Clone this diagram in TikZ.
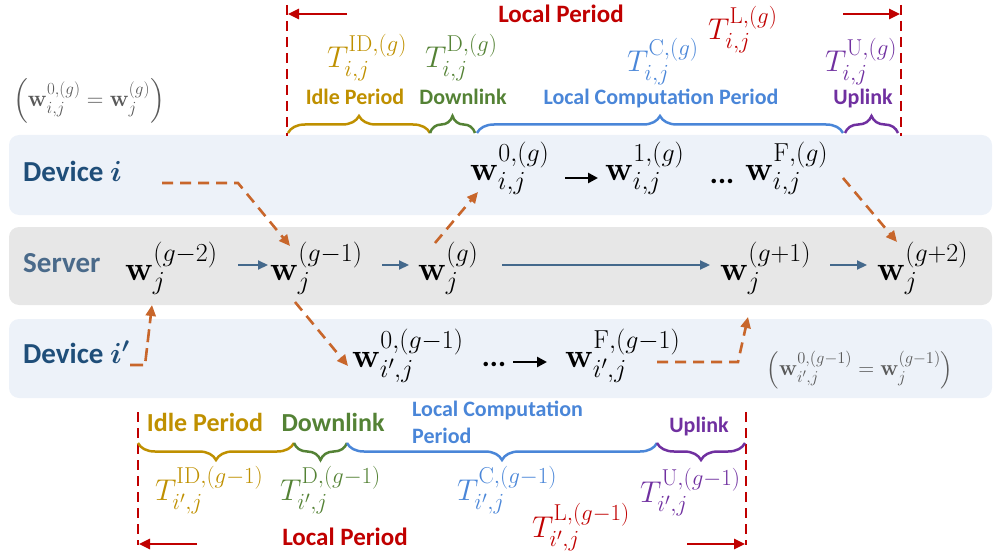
\RequirePackage{fix-cm}
\documentclass[tikz,border=0pt]{standalone}
\usepackage[no-math]{fontspec}
\setmainfont{Carlito}
\usepackage{amsmath,bm}
\usetikzlibrary{arrows.meta,decorations.pathreplacing}
\DeclareMathSizes{34}{34}{26}{19}
\DeclareMathSizes{30}{30}{23}{17}
\DeclareMathSizes{29}{29}{21}{16}
\DeclareMathSizes{23}{23}{17}{13}
\DeclareMathSizes{22}{22}{16.5}{12}
\definecolor{bandblue}{HTML}{EDF2F9}
\definecolor{bandgray}{HTML}{E7E7E7}
\definecolor{devblue}{HTML}{1F4E79}
\definecolor{servblue}{HTML}{4A6A8A}
\definecolor{arrblue}{HTML}{44698C}
\definecolor{orng}{HTML}{C8662B}
\definecolor{lred}{HTML}{C00000}
\definecolor{gold}{HTML}{BF9000}
\definecolor{grn}{HTML}{548235}
\definecolor{cblue}{HTML}{4A86D8}
\definecolor{purp}{HTML}{7030A0}
\definecolor{anngray}{HTML}{595959}
\tikzset{
  wnode/.style={inner sep=0pt, anchor=base west, font=\fontsize{34}{36}\selectfont},
  tnode/.style={inner sep=0pt, anchor=base west, font=\fontsize{30}{32}\selectfont},
  rowlab/.style={inner sep=0pt, anchor=base west, font=\fontsize{29}{32}\selectfont\bfseries},
  plab/.style={inner sep=0pt, anchor=base, font=\fontsize{22}{26}\selectfont\bfseries},
  plabbig/.style={inner sep=0pt, anchor=base, font=\fontsize{26}{30}\selectfont\bfseries},
  lplab/.style={inner sep=0pt, anchor=base, font=\fontsize{25}{28}\selectfont\bfseries, text=lred},
  ann/.style={inner sep=0pt, text=anngray},
  dotsnode/.style={inner sep=0pt, anchor=base, font=\fontsize{30}{30}\selectfont\bfseries},
  odash/.style={draw=orng, line width=2.6pt, dash pattern=on 11pt off 7pt, -{Triangle[length=11pt,width=10pt]}},
  sarrow/.style={draw=arrblue, line width=2.2pt, -{Triangle[length=10pt,width=9pt]}},
  karrow/.style={draw=black, line width=2.6pt, -{Triangle[length=10pt,width=10pt]}},
  rdash/.style={draw=lred, line width=2.5pt, dash pattern=on 10pt off 6pt},
  rarrow/.style={draw=lred, line width=2.5pt, -{Triangle[length=11pt,width=10pt]}},
  bracedeco/.style={decorate, decoration={brace, amplitude=17pt}, line width=2.5pt},
}
\begin{document}
\begin{tikzpicture}[x=1pt,y=-1pt]
\useasboundingbox (0,0) rectangle (993,559);
% bands
\fill[bandblue, rounded corners=10pt] (9,135) rectangle (992,215);
\fill[bandgray, rounded corners=10pt] (9,227) rectangle (992,305);
\fill[bandblue, rounded corners=10pt] (9,319) rectangle (992,398);

% row labels
\node[rowlab, text=devblue] (devi) at (23,181) {Device $\bm{i}$};
\node[rowlab, text=servblue] (serv) at (23,272) {Server};
\node[rowlab, text=devblue] (devip) at (23,363) {Device $\bm{i'}$};

% server nodes
\node[wnode] (s0) at (125,280) {$\mathbf{w}_j^{(g-2)}$};
\node[wnode] (s1) at (270,280) {$\mathbf{w}_j^{(g-1)}$};
\node[wnode] (s2) at (418,280) {$\mathbf{w}_j^{(g)}$};
\node[wnode] (s3) at (720,280) {$\mathbf{w}_j^{(g+1)}$};
\node[wnode] (s4) at (877,280) {$\mathbf{w}_j^{(g+2)}$};

% device i nodes
\node[wnode] (d0) at (470,180) {$\mathbf{w}_{i,j}^{0,(g)}$};
\node[wnode] (d1) at (605,180) {$\mathbf{w}_{i,j}^{1,(g)}$};
\node[dotsnode] (ddots) at (722,183) {...};
\node[wnode] (dF) at (745,180) {$\mathbf{w}_{i,j}^{\mathrm{F},(g)}$};

% device i' nodes
\node[wnode] (e0) at (352,367) {$\mathbf{w}_{i',j}^{0,(g-1)}$};
\node[dotsnode] (edots) at (494,366) {...};
\node[wnode] (eF) at (565,367) {$\mathbf{w}_{i',j}^{\mathrm{F},(g-1)}$};

% annotations
\node[ann, font=\fontsize{23}{26}\selectfont] (annA) at (89,101) {$\left(\mathbf{w}_{i,j}^{0,(g)} = \mathbf{w}_j^{(g)}\right)$};
\node[ann, font=\fontsize{22}{25}\selectfont] (annB) at (860,370) {$\left(\mathbf{w}_{i',j}^{0,(g-1)} = \mathbf{w}_j^{(g-1)}\right)$};

% server arrows
\coordinate (a0s) at (238,265); \coordinate (a0e) at (268,265);
\coordinate (a1s) at (382,265); \coordinate (a1e) at (409,265);
\coordinate (a2s) at (502,265); \coordinate (a2e) at (710,265);
\coordinate (a3s) at (830,265); \coordinate (a3e) at (867,265);
\draw[sarrow] (a0s) -- (a0e);
\draw[sarrow] (a1s) -- (a1e);
\draw[sarrow] (a2s) -- (a2e);
\draw[sarrow] (a3s) -- (a3e);

% black arrows
\coordinate (b0s) at (565,178); \coordinate (b0e) at (598,178);
\coordinate (b1s) at (513,362); \coordinate (b1e) at (547,362);
\draw[karrow] (b0s) -- (b0e);
\draw[karrow] (b1s) -- (b1e);

% orange dashed arrows
\coordinate (o1a) at (162,183); \coordinate (o1b) at (238,183); \coordinate (o1c) at (290,246);
\draw[odash] (o1a) -- (o1b) -- (o1c);
\coordinate (o2a) at (435,243); \coordinate (o2b) at (478,192);
\draw[odash] (o2a) -- (o2b);
\coordinate (o3a) at (843,178); \coordinate (o3b) at (897,242);
\draw[odash] (o3a) -- (o3b);
\coordinate (o4a) at (295,302); \coordinate (o4b) at (348,366);
\draw[odash] (o4a) -- (o4b);
\coordinate (o5a) at (130,365); \coordinate (o5b) at (145,365); \coordinate (o5c) at (152,305);
\draw[odash, dash pattern=on 13pt off 6pt] (o5a) -- (o5b) -- (o5c);
\coordinate (o6a) at (657,362); \coordinate (o6b) at (738,362); \coordinate (o6c) at (748,317);
\draw[odash] (o6a) -- (o6b) -- (o6c);

% ===== top timeline =====
\coordinate (tl1) at (287,5); \coordinate (tl2) at (287,136);
\coordinate (tr1) at (901,5); \coordinate (tr2) at (901,136);
\draw[rdash] (tl1) -- (tl2);
\draw[rdash] (tr1) -- (tr2);
\coordinate (tla) at (347,14); \coordinate (tlb) at (288,14);
\coordinate (tra) at (843,14); \coordinate (trb) at (900,14);
\draw[rarrow] (tla) -- (tlb);
\draw[rarrow] (tra) -- (trb);
\node[lplab] (tlp) at (561,23) {Local Period};
\node[tnode, text=lred] (tTL) at (708,40) {$T_{i,j}^{\mathrm{L},(g)}$};
\node[tnode, text=gold] (tTID) at (327,68) {$T_{i,j}^{\mathrm{ID},(g)}$};
\node[tnode, text=grn] (tTD) at (425,68) {$T_{i,j}^{\mathrm{D},(g)}$};
\node[tnode, text=cblue] (tTC) at (627,72) {$T_{i,j}^{\mathrm{C},(g)}$};
\node[tnode, text=purp] (tTU) at (825,72) {$T_{i,j}^{\mathrm{U},(g)}$};
\node[plab, text=gold] (tlid) at (355,105) {Idle Period};
\node[plab, text=grn] (tldl) at (463,105) {Downlink};
\node[plab, text=cblue] (tllc) at (661,105) {Local Computation Period};
\node[plab, text=purp] (tlul) at (863,105) {Uplink};
\coordinate (tb0) at (288,133); \coordinate (tb1) at (430,133);
\coordinate (tb2) at (475,133); \coordinate (tb3) at (477,133);
\coordinate (tb4) at (843,133); \coordinate (tb5) at (845,133);
\coordinate (tb6) at (898,133);
\draw[bracedeco, gold] (tb0) -- (tb1);
\draw[bracedeco, grn] (tb1) -- (tb2);
\draw[bracedeco, cblue] (tb3) -- (tb4);
\draw[bracedeco, purp] (tb5) -- (tb6);

% ===== bottom timeline =====
\coordinate (bl1) at (138,412); \coordinate (bl2) at (138,545);
\coordinate (br1) at (746,412); \coordinate (br2) at (746,545);
\draw[rdash] (bl1) -- (bl2);
\draw[rdash] (br1) -- (br2);
\coordinate (bla) at (197,544); \coordinate (blb) at (139,544);
\coordinate (bra) at (687,544); \coordinate (brb) at (745,544);
\draw[rarrow] (bla) -- (blb);
\draw[rarrow] (bra) -- (brb);
\node[plabbig, text=gold] (blid) at (205,431) {Idle Period};
\node[plabbig, text=grn] (bldl) at (333,431) {Downlink};
\node[inner sep=0pt, anchor=base west, font=\fontsize{22}{26}\selectfont\bfseries, text=cblue] (bllc1) at (412,416) {Local Computation};
\node[inner sep=0pt, anchor=base west, font=\fontsize{22}{26}\selectfont\bfseries, text=cblue] (bllc2) at (412,443) {Period};
\node[plab, text=purp] (blul) at (699,432) {Uplink};
\coordinate (bb0) at (138,443); \coordinate (bb1) at (294,443);
\coordinate (bb2) at (347,443); \coordinate (bb3) at (657,443);
\coordinate (bb4) at (745,443);
\draw[bracedeco, gold] (bb1) -- (bb0);
\draw[bracedeco, grn] (bb2) -- (bb1);
\draw[bracedeco, cblue] (bb3) -- (bb2);
\draw[bracedeco, purp] (bb4) -- (bb3);
\node[tnode, text=gold] (bTID) at (155,500) {$T_{i',j}^{\mathrm{ID},(g-1)}$};
\node[tnode, text=grn] (bTD) at (280,500) {$T_{i',j}^{\mathrm{D},(g-1)}$};
\node[tnode, text=cblue] (bTC) at (457,500) {$T_{i',j}^{\mathrm{C},(g-1)}$};
\node[tnode, text=purp] (bTU) at (640,502) {$T_{i',j}^{\mathrm{U},(g-1)}$};
\node[tnode, text=lred] (bTL) at (532,537) {$T_{i',j}^{\mathrm{L},(g-1)}$};
\node[lplab] (blp) at (345,545) {Local Period};
\end{tikzpicture}
\end{document}
